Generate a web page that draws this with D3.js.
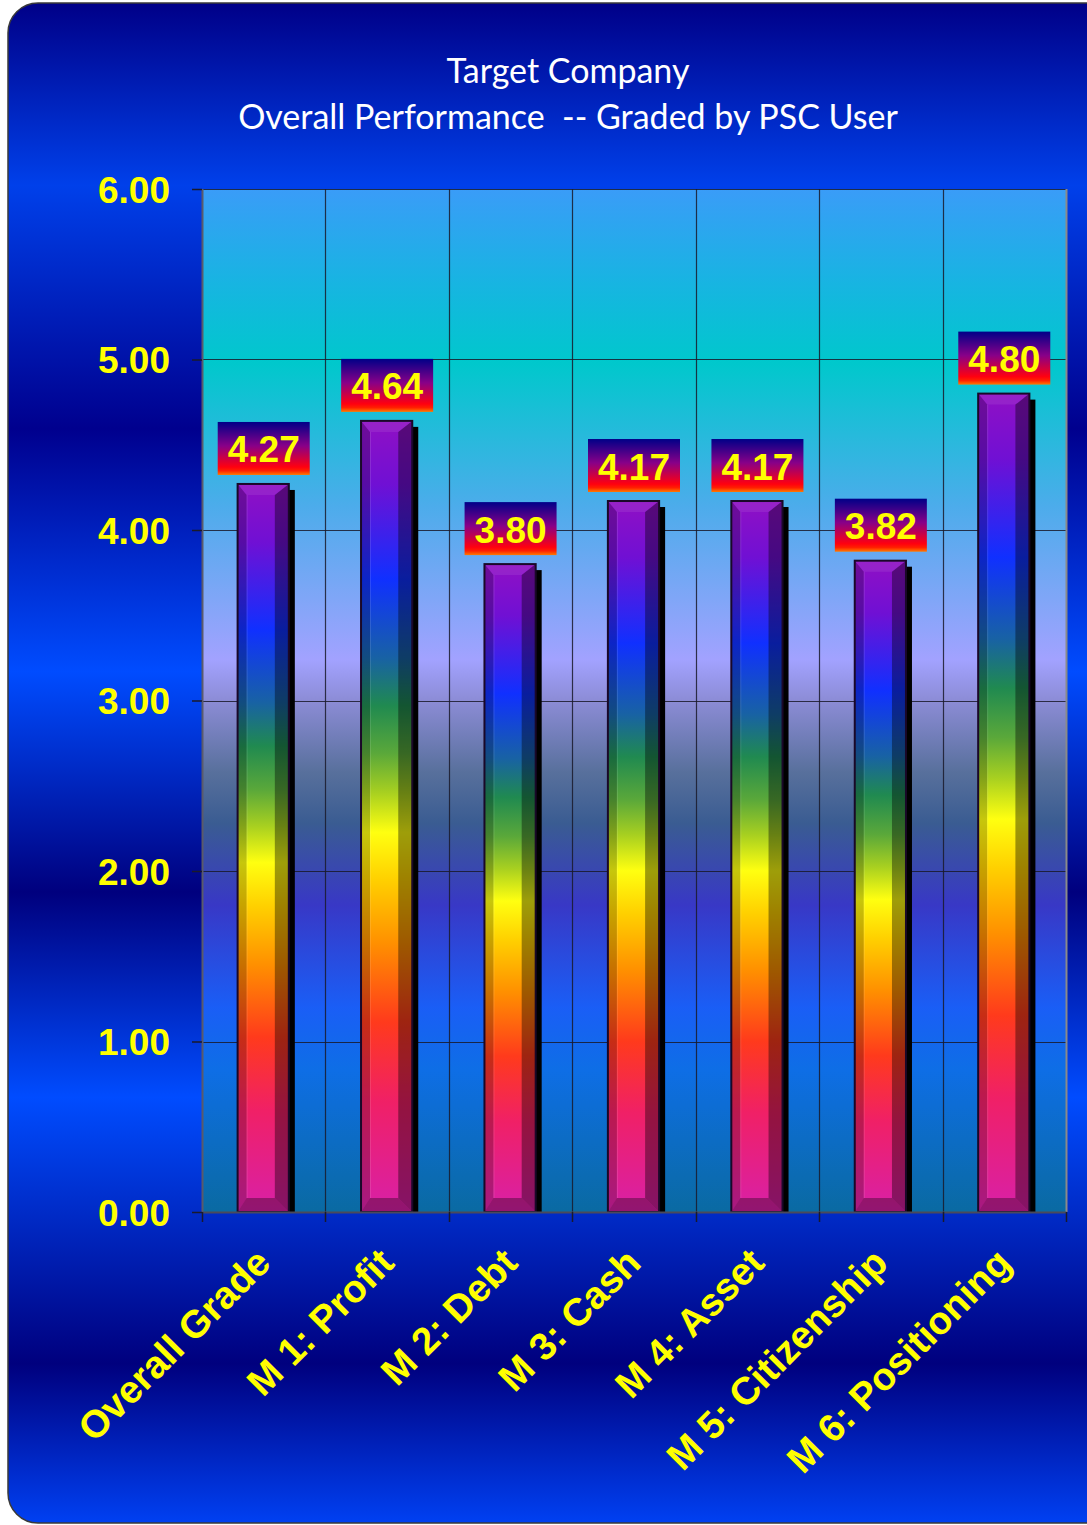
<!DOCTYPE html>
<html>
<head>
<meta charset="utf-8">
<script src="https://cdn.jsdelivr.net/npm/d3@7"></script>
<style>
  html, body { margin: 0; padding: 0; background: #ffffff; }
  svg { display: block; }
</style>
</head>
<body>
<svg id="chart" width="1087" height="1525"></svg>
<script>
// Chart data
const categories = ["Overall Grade", "M 1: Profit", "M 2: Debt", "M 3: Cash", "M 4: Asset", "M 5: Citizenship", "M 6: Positioning"];
const values = [4.27, 4.64, 3.80, 4.17, 4.17, 3.82, 4.80];
const yTicks = [0, 1, 2, 3, 4, 5, 6];
const titleLines = ["Target Company", "Overall Performance  -- Graded by PSC User"];

const W = 1087, H = 1525;
const plot = { left: 202, right: 1066, top: 189, bottom: 1212 };

const svg = d3.select("#chart");
const defs = svg.append("defs");

function linGrad(id, stops) {
  const g = defs.append("linearGradient").attr("id", id)
    .attr("x1", 0).attr("y1", 0).attr("x2", 0).attr("y2", 1);
  stops.forEach(([o, c]) => g.append("stop").attr("offset", o).attr("stop-color", c));
  return g;
}

// Outer panel: banded blue gradient
linGrad("panelGrad", [
  [0.00, "#000088"], [0.12, "#0040ea"], [0.28, "#00008e"], [0.44, "#004cff"],
  [0.585, "#00007e"], [0.72, "#004cff"], [0.895, "#00007e"], [1.00, "#0040f2"]
]);
// Plot area background
linGrad("plotGrad", [
  [0.00, "#3a9cf8"], [0.09, "#18b4e2"], [0.17, "#00c8cc"], [0.31, "#4caceb"],
  [0.46, "#a2a2ff"], [0.50, "#8c8cd6"], [0.57, "#58709c"], [0.62, "#3a5c92"],
  [0.70, "#3838c6"], [0.80, "#1a5ef6"], [0.86, "#0e6ee6"], [1.00, "#0a6aa2"]
]);
// Bar fill (rainbow, top to bottom of each bar)
linGrad("barGrad", [
  [0.00, "#9010c4"], [0.08, "#7010d4"], [0.20, "#1030ff"], [0.30, "#1862a4"],
  [0.36, "#208a50"], [0.42, "#5aa83a"], [0.47, "#a8d020"], [0.52, "#ffff10"],
  [0.58, "#ffd000"], [0.66, "#ff9000"], [0.76, "#ff3a1c"], [0.86, "#f02066"],
  [1.00, "#d820a8"]
]);
// Value label box
linGrad("labelGrad", [
  [0.00, "#000088"], [0.45, "#880088"], [0.85, "#ff0010"], [0.92, "#ff2000"], [1.00, "#ff7a00"]
]);

// Panel
svg.append("rect")
  .attr("x", 8).attr("y", 3).attr("width", 1110).attr("height", 1520)
  .attr("rx", 30).attr("ry", 30)
  .attr("fill", "url(#panelGrad)")
  .attr("stroke", "#3a3a3a").attr("stroke-width", 1.5);

// Title
const title = svg.append("g")
  .attr("font-family", "Lato, 'Open Sans', sans-serif")
  .attr("font-size", 34).attr("fill", "#ffffff")
  .attr("text-anchor", "middle");
title.selectAll("text").data(titleLines).join("text")
  .attr("x", 568).attr("y", (d, i) => 83 + i * 46)
  .style("white-space", "pre")
  .text(d => d);

// Scales
const x = d3.scaleBand().domain(categories).range([plot.left, plot.right]).padding(0);
const y = d3.scaleLinear().domain([0, 6]).range([plot.bottom, plot.top]);

// Plot background
svg.append("rect")
  .attr("x", plot.left).attr("y", plot.top)
  .attr("width", plot.right - plot.left).attr("height", plot.bottom - plot.top)
  .attr("fill", "url(#plotGrad)");

// Gridlines
const grid = svg.append("g").attr("stroke", "#1a1a2a").attr("stroke-opacity", 0.85).attr("stroke-width", 1.2);
grid.selectAll("line.h").data(yTicks.filter(d => d > 0)).join("line")
  .attr("class", "h")
  .attr("x1", plot.left).attr("x2", plot.right)
  .attr("y1", d => Math.round(y(d)) + 0.5).attr("y2", d => Math.round(y(d)) + 0.5);
grid.selectAll("line.v").data(categories.slice(1)).join("line")
  .attr("class", "v")
  .attr("x1", d => Math.round(x(d)) + 0.5).attr("x2", d => Math.round(x(d)) + 0.5)
  .attr("y1", plot.top).attr("y2", plot.bottom);

// Plot frame
svg.append("line").attr("x1", plot.right + 0.5).attr("x2", plot.right + 0.5)
  .attr("y1", plot.top).attr("y2", plot.bottom).attr("stroke", "#8a8a8a").attr("stroke-width", 2);
svg.append("line").attr("x1", plot.left + 0.5).attr("x2", plot.left + 0.5)
  .attr("y1", plot.top).attr("y2", plot.bottom).attr("stroke", "#5a5a6a").attr("stroke-width", 2);

// Bars
const barW = x.bandwidth() * 0.415;
const bars = svg.append("g").selectAll("g.bar").data(categories.map((c, i) => ({ c, v: values[i] })))
  .join("g").attr("class", "bar")
  .attr("transform", d => `translate(${x(d.c) + x.bandwidth() / 2 - barW / 2 - 0.5},${y(d.v)})`);

bars.each(function (d) {
  const g = d3.select(this);
  const h = y(0) - y(d.v);
  const w = barW, l = 9, r = 14, t = 11, b = 14;
  // drop shadow
  g.append("rect").attr("x", 6).attr("y", 6).attr("width", w).attr("height", h - 6).attr("fill", "#000000");
  // body
  g.append("rect").attr("width", w).attr("height", h).attr("fill", "url(#barGrad)");
  // bevel faces
  g.append("path").attr("d", `M0,0 L${l},${t} L${l},${h - b} L0,${h} Z`).attr("fill", "#000").attr("fill-opacity", 0.22);
  g.append("path").attr("d", `M${w},0 L${w - r},${t} L${w - r},${h - b} L${w},${h} Z`).attr("fill", "#000").attr("fill-opacity", 0.38);
  g.append("path").attr("d", `M0,0 L${w},0 L${w - r},${t} L${l},${t} Z`).attr("fill", "#ffffff").attr("fill-opacity", 0.08);
  g.append("path").attr("d", `M0,${h} L${w},${h} L${w - r},${h - b} L${l},${h - b} Z`).attr("fill", "#000").attr("fill-opacity", 0.32);
  g.append("line").attr("x1", l + 0.5).attr("x2", l + 0.5).attr("y1", t).attr("y2", h - b)
    .attr("stroke", "#ffffff").attr("stroke-opacity", 0.12);
  // outline
  g.append("rect").attr("width", w).attr("height", h).attr("fill", "none")
    .attr("stroke", "#1a0828").attr("stroke-width", 2);
});

// Value labels
const boxW = 92, boxH = 53, gap = 9;
const labels = svg.append("g").selectAll("g.lbl").data(categories.map((c, i) => ({ c, v: values[i] })))
  .join("g").attr("class", "lbl")
  .attr("transform", d => `translate(${x(d.c) + x.bandwidth() / 2},${y(d.v) - gap - boxH})`);
labels.append("rect").attr("x", -boxW / 2).attr("width", boxW).attr("height", boxH).attr("fill", "url(#labelGrad)");
labels.append("text")
  .attr("y", boxH / 2 + 14)
  .attr("text-anchor", "middle")
  .attr("font-family", "Arial, 'Liberation Sans', sans-serif")
  .attr("font-weight", "bold").attr("font-size", 37)
  .attr("fill", "#ffff00")
  .text(d => d.v.toFixed(2));

// Y axis
const yAxis = svg.append("g").attr("transform", `translate(${plot.left},0)`)
  .call(d3.axisLeft(y).tickValues(yTicks).tickFormat(d3.format(".2f")).tickSize(10).tickPadding(22));
yAxis.select(".domain").remove();
yAxis.selectAll(".tick line").attr("stroke", "#1a1a2a").attr("stroke-width", 1.5);
yAxis.selectAll(".tick text")
  .attr("font-family", "Arial, 'Liberation Sans', sans-serif")
  .attr("font-weight", "bold").attr("font-size", 37).attr("fill", "#ffff00")
  .attr("dy", "0.36em");

// X axis
const xAxis = svg.append("g").attr("transform", `translate(0,${plot.bottom})`)
  .call(d3.axisBottom(x).tickSize(0).tickFormat(""));
xAxis.select(".domain").attr("stroke", "#4a4a5a").attr("stroke-width", 2);
xAxis.selectAll(".tick").remove();
const bounds = categories.map(c => x(c)).concat([plot.right]);
xAxis.selectAll("line.bt").data(bounds).join("line").attr("class", "bt")
  .attr("x1", d => Math.round(d) + 0.5).attr("x2", d => Math.round(d) + 0.5)
  .attr("y1", 0).attr("y2", 10).attr("stroke", "#1a1a2a").attr("stroke-width", 1.5);

svg.append("g").selectAll("text.xl").data(categories).join("text").attr("class", "xl")
  .attr("transform", d => `translate(${x(d) + x.bandwidth() / 2 + 9},${plot.bottom + 53}) rotate(-45)`)
  .attr("text-anchor", "end")
  .attr("font-family", "Arial, 'Liberation Sans', sans-serif")
  .attr("font-weight", "bold").attr("font-size", 38.5).attr("fill", "#ffff00")
  .text(d => d);
</script>
</body>
</html>
